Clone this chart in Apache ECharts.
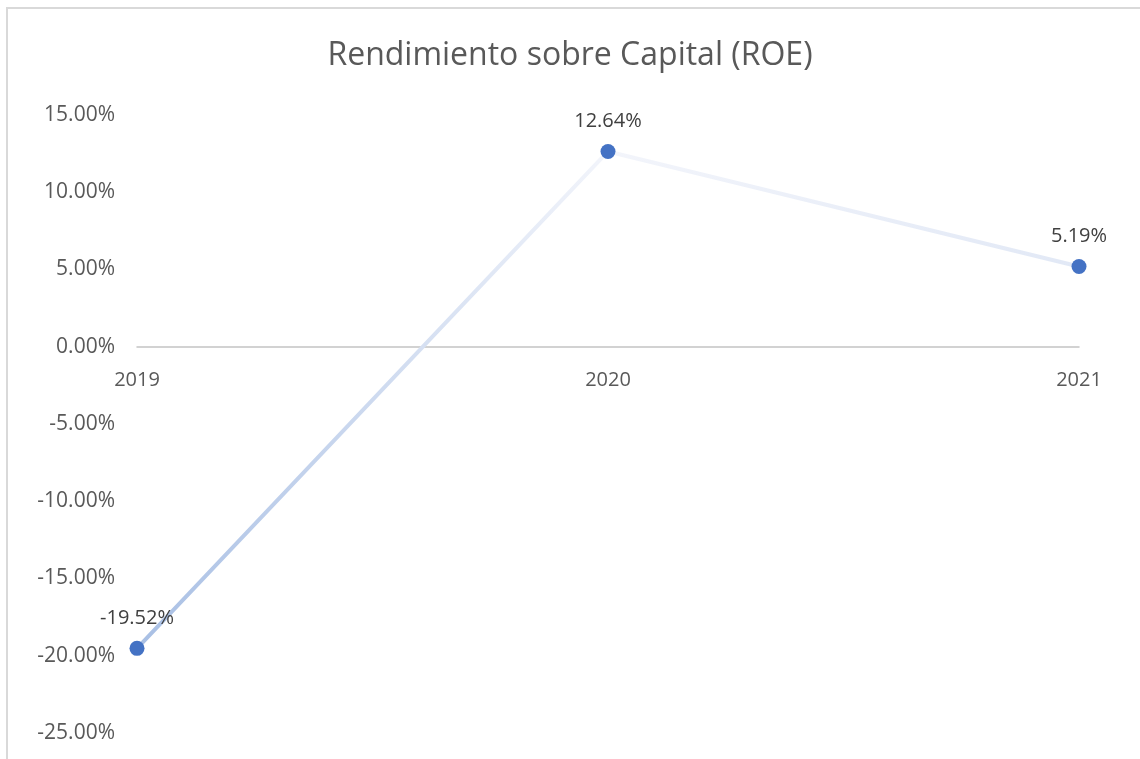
<!DOCTYPE html>
<html>
<head>
<meta charset="utf-8">
<script src="https://cdn.jsdelivr.net/npm/echarts@6/dist/echarts.min.js"></script>
<style>
  html, body { margin: 0; padding: 0; background: #fff; }
  #chart { width: 1140px; height: 759px; }
</style>
</head>
<body>
<div id="chart"></div>
<script>
// datos del gráfico
const years = ['2019', '2020', '2021'];
const roe = [-19.52, 12.64, 5.19];
const chartTitle = 'Rendimiento sobre Capital (ROE)';

const chart = echarts.init(document.getElementById('chart'));

// el eje X se dibuja sobre el cero: desplazamiento desde el borde inferior
const gridTop = 115, gridBottom = 26, yMin = -25, yMax = 15;
const plotH = 759 - gridTop - gridBottom;
const zeroOffset = -plotH * (0 - yMin) / (yMax - yMin);

const option = {
  backgroundColor: '#ffffff',
  textStyle: { fontFamily: '"Open Sans", "Noto Sans", sans-serif' },
  title: {
    text: chartTitle,
    left: 'center',
    top: 35,
    textStyle: { fontSize: 32, fontWeight: 'normal', color: '#595959', fontFamily: '"Open Sans", "Noto Sans", sans-serif' }
  },
  // marco del área del gráfico
  graphic: [
    {
      type: 'rect',
      shape: { x: 7, y: 8, width: 1160, height: 800 },
      style: { fill: 'none', stroke: '#d9d9d9', lineWidth: 2 },
      silent: true
    }
  ],
  grid: { left: 137, right: 61, top: gridTop, bottom: gridBottom, outerBoundsMode: 'none', containLabel: false },
  xAxis: {
    type: 'category',
    data: years,
    boundaryGap: false,
    offset: zeroOffset,
    axisLine: { onZero: false, lineStyle: { color: '#c4c4c4', width: 1.5 } },
    axisTick: { show: false },
    axisLabel: { color: '#595959', fontSize: 20, margin: 24 },
    splitLine: { show: false }
  },
  yAxis: {
    type: 'value',
    min: yMin,
    max: yMax,
    interval: 5,
    axisLine: { show: false },
    axisTick: { show: false },
    splitLine: { show: false },
    axisLabel: {
      color: '#595959',
      fontSize: 21,
      margin: 22,
      formatter: v => v.toFixed(2) + '%'
    }
  },
  series: [
    {
      type: 'line',
      data: roe,
      symbol: 'circle',
      symbolSize: 15,
      itemStyle: { color: '#4472c4' },
      lineStyle: {
        width: 4,
        color: new echarts.graphic.LinearGradient(0, 0, 0, 1, [
          { offset: 0, color: '#f3f5fb' },
          { offset: 1, color: '#a8bfe4' }
        ])
      },
      label: {
        show: true,
        position: 'top',
        distance: 13,
        color: '#404040',
        fontSize: 20,
        formatter: p => p.value.toFixed(2) + '%'
      },
      z: 3
    }
  ]
};

chart.setOption(option);
</script>
</body>
</html>
